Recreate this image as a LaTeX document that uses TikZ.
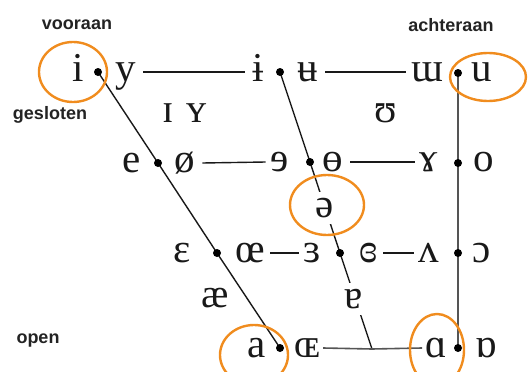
\documentclass[tikz,border=0pt]{standalone}
\usepackage{fontspec}
\newfontfamily\ipafont{Liberation Serif}
\newfontfamily\labfont{Liberation Sans}
\usetikzlibrary{backgrounds}
\definecolor{ring}{RGB}{240,140,30}
\definecolor{labgray}{RGB}{35,35,35}
\definecolor{backline}{RGB}{85,85,85}
\begin{document}
\begin{tikzpicture}[x=1pt,y=-1pt,
  sym/.style={font=\ipafont\fontsize{41}{44}\selectfont, text=black!90, text height=18pt, text depth=0pt, inner xsep=3pt, inner ysep=0pt},
  gap/.style={sym, fill=white, inner ysep=7pt, inner xsep=1pt},
  dotn/.style={circle, fill=black, inner sep=0pt, minimum size=8pt},
  lab/.style={font=\labfont\bfseries\fontsize{18}{20}\selectfont, text=labgray, inner sep=0pt},
  ln/.style={line width=1.4pt, black!90},
  gln/.style={line width=1.6pt, backline},
  ringst/.style={draw=ring, line width=2.4pt}]
\useasboundingbox (0,0) rectangle (528,372);
% labels
\node[lab] (voor) at (77,25) {vooraan};
\node[lab] (acht) at (451,25) {achteraan};
\node[lab] (gesl) at (50,115) {gesloten};
\node[lab] (open) at (38,341) {open};
% symbols
\node[sym] (i) at (78,72) {i};
\node[sym] (y) at (126,72) {y};
\node[sym] (ibar) at (258,72) {ɨ};
\node[sym] (ubar) at (308,72) {ʉ};
\node[sym] (wturn) at (427,72) {ɯ};
\node[sym] (u) at (482,72) {u};
\node[sym] (capi) at (168,113) {ɪ};
\node[sym] (capy) at (197,113) {ʏ};
\node[sym] (ups) at (386,113) {ʊ};
\node[sym] (e) at (132,163) {e};
\node[sym] (oslash) at (185,163) {ø};
\node[sym] (reve) at (280,162) {ɘ};
\node[sym] (obar) at (333,162) {ɵ};
\node[sym] (gam) at (429,162) {ɤ};
\node[sym] (o) at (484,162) {o};
\node[gap] (schwa) at (325,208) {ə};
\node[sym] (eps) at (182,253) {ɛ};
\node[sym] (oe) at (250,253) {œ};
\node[sym] (reveps) at (312,253) {ɜ};
\node[sym] (clreveps) at (369,253) {ɞ};
\node[sym] (turnv) at (429,253) {ʌ};
\node[sym] (openo) at (482,253) {ɔ};
\node[sym] (ae) at (215,298) {æ};
\node[gap] (turna) at (354,299) {ɐ};
\node[sym] (a) at (257,348) {a};
\node[sym] (OE) at (307,348) {ɶ};
\node[sym] (alpha) at (436,348) {ɑ};
\node[sym] (turnalpha) at (486,348) {ɒ};
% dots
\node[dotn] (d1) at (98,72) {};
\node[dotn] (d2) at (280,72) {};
\node[dotn] (d3) at (458,73) {};
\node[dotn] (d4) at (158,163) {};
\node[dotn] (d5) at (310,162) {};
\node[dotn] (d6) at (458,163) {};
\node[dotn] (d7) at (217,253) {};
\node[dotn] (d8) at (340,253) {};
\node[dotn] (d9) at (458,253) {};
\node[dotn] (d10) at (280,348) {};
\node[dotn] (d11) at (458,348) {};
\coordinate (j) at (372,349);
\begin{scope}[on background layer]
  \draw[ln] (d1.center) -- (d4.center) -- (d7.center) -- (d10.center);
  \draw[ln] (d2.center) -- (d5.center) -- (d8.center) -- (j);
  \draw[gln] (d3.center) -- (d6.center) -- (d9.center) -- (d11.center);
  \draw[gln] (OE.east) -- (j) -- (alpha.west);
  \draw[ln] ([xshift=4pt]y.east) -- ([xshift=-4pt]ibar.west);
  \draw[ln] ([xshift=4pt]ubar.east) -- ([xshift=-2pt]wturn.west);
  \draw[ln] ([xshift=4pt]oslash.east) -- ([xshift=-2pt]reve.west);
  \draw[ln] ([xshift=4pt]obar.east) -- ([xshift=-2pt]gam.west);
  \draw[ln] ([xshift=2pt]oe.east) -- ([xshift=-1pt]reveps.west);
  \draw[ln] ([xshift=2pt]clreveps.east) -- ([xshift=-2pt]turnv.west);
\end{scope}
% orange rings
\draw[ringst] (73,72) ellipse [x radius=34, y radius=30];
\draw[ringst] (488,77) ellipse [x radius=38, y radius=24];
\draw[ringst] (327,205) ellipse [x radius=37, y radius=30];
\draw[ringst] (254,355) ellipse [x radius=34, y radius=30];
\draw[ringst] (437,350) ellipse [x radius=27, y radius=36];
\end{tikzpicture}
\end{document}
